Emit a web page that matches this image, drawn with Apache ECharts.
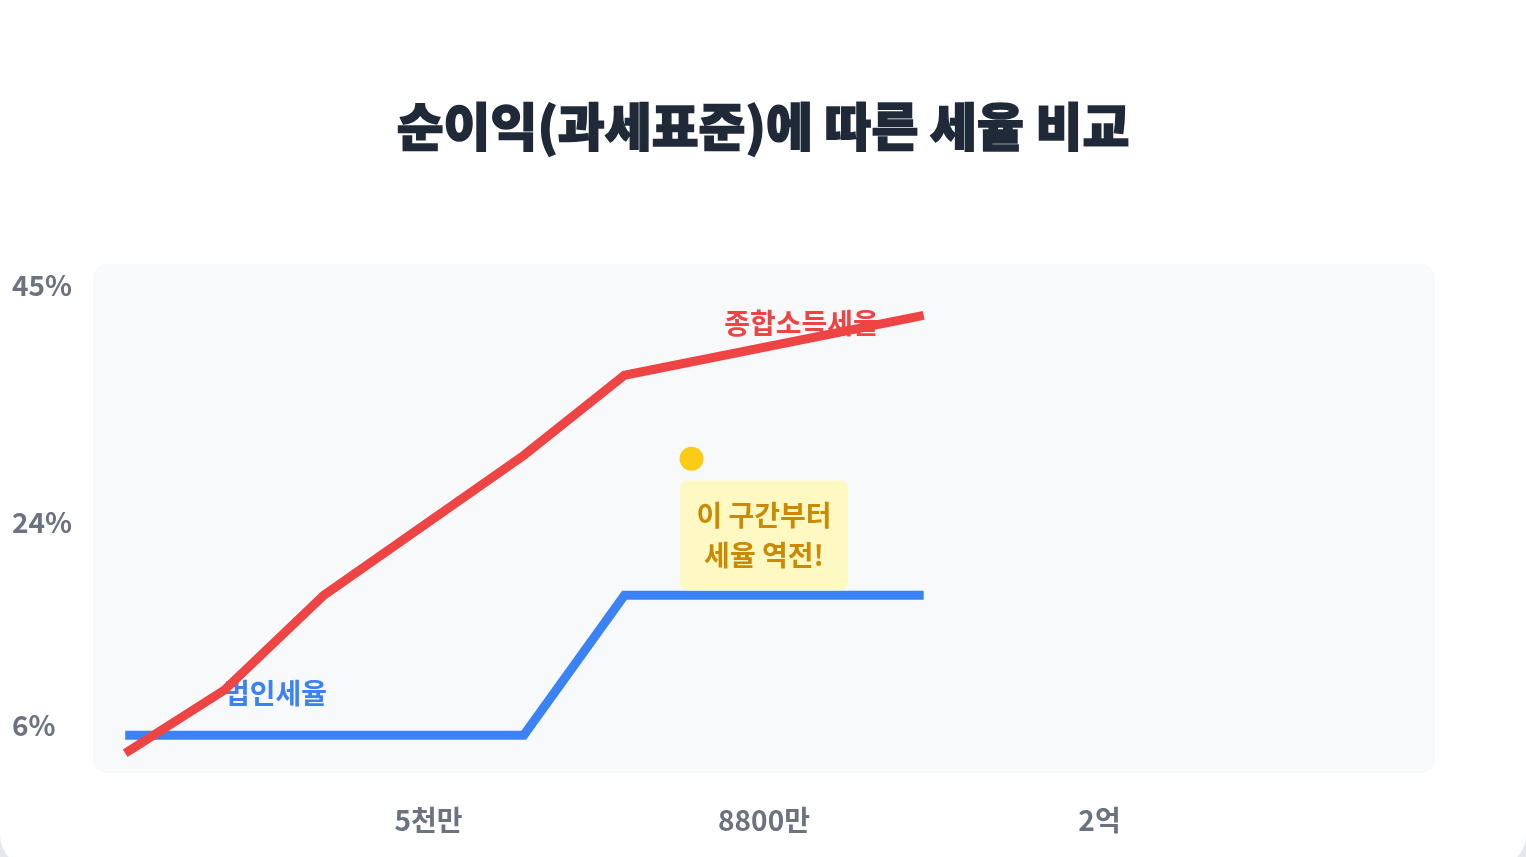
<!DOCTYPE html>
<html>
<head>
    <meta charset="utf-8">
    <script src="https://cdn.jsdelivr.net/npm/echarts@6/dist/echarts.min.js"></script>
    <style>
        html, body { margin: 0; padding: 0; background: #e5e7eb; overflow: hidden; }
        .card {
            width: 1526px;
            height: 867px;
            background: #ffffff;
            border-radius: 0 0 32px 32px;
            overflow: hidden;
        }
        #main { width: 1526px; height: 857px; }
    </style>
</head>
<body>
<div class="card"><div id="main"></div></div>

<script>
    // 종합소득세율 (x: 순이익 위치, y: 세율 %)
    var incomeX = [2.4, 9.8, 17.2, 32.1, 39.6, 61.9];
    var incomeRate = [3.5, 9.1, 17.5, 29.9, 37.0, 42.3];

    // 법인세율
    var corpX = [2.4, 32.1, 39.6, 61.9];
    var corpRate = [5.1, 5.1, 17.5, 17.5];

    // 축 눈금
    var xTicks = [25, 50, 75];
    var xTickLabels = ['5천만', '8800만', '2억'];
    var yTicks = [6, 24, 45];

    // 주석 위치
    var incomeLabelPos = [52.8, 41.6];
    var corpLabelPos = [13.6, 8.8];
    var dotPos = [44.6, 29.6];
    var notePos = [50.0, 22.8];

    var FONT = 'Noto Sans CJK KR';

    function pairs(xs, ys) {
        var out = [];
        for (var i = 0; i < xs.length; i++) {
            out.push([xs[i], ys[i]]);
        }
        return out;
    }

    var chart = echarts.init(document.getElementById('main'));
    chart.setOption({
        backgroundColor: 'transparent',
        animation: false,
        title: {
            text: '순이익(과세표준)에 따른 세율 비교',
            left: 'center',
            top: 92,
            textStyle: {
                fontFamily: FONT,
                fontSize: 51,
                fontWeight: 900,
                color: '#1f2937',
                textBorderColor: '#1f2937',
                textBorderWidth: 1.5,
                lineHeight: 60
            }
        },
        graphic: [{
            type: 'rect',
            left: 93,
            top: 264,
            z: -10,
            shape: { width: 1342, height: 509, r: 14 },
            style: { fill: '#f8f9fb' }
        }],
        grid: {
            left: 93,
            right: 91,
            top: 264,
            bottom: 84
        },
        xAxis: {
            type: 'value',
            min: 0,
            max: 100,
            axisLine: { show: false },
            axisTick: { show: false },
            splitLine: { show: false },
            axisLabel: {
                customValues: xTicks,
                margin: 33,
                fontFamily: FONT,
                fontSize: 28,
                fontWeight: 700,
                lineHeight: 28,
                color: '#6b7280',
                formatter: function (v) {
                    var i = xTicks.indexOf(v);
                    return i >= 0 ? xTickLabels[i] : '';
                }
            }
        },
        yAxis: {
            type: 'value',
            min: 1.745,
            max: 46.861,
            axisLine: { show: false },
            axisTick: { show: false },
            splitLine: { show: false },
            axisLabel: {
                customValues: yTicks,
                align: 'left',
                margin: 81,
                fontFamily: FONT,
                fontSize: 28,
                fontWeight: 700,
                color: '#6b7280',
                formatter: '{value}%'
            }
        },
        series: [{
            name: '법인세율 라벨',
            type: 'scatter',
            z: 1,
            symbolSize: 0,
            silent: true,
            itemStyle: { opacity: 1 },
            data: [corpLabelPos],
            label: {
                show: true,
                position: 'inside',
                formatter: '법인세율',
                fontFamily: FONT,
                fontSize: 28,
                fontWeight: 700,
                color: '#3b82f6'
            }
        }, {
            name: '종합소득세율 라벨',
            type: 'scatter',
            z: 1,
            symbolSize: 0,
            silent: true,
            itemStyle: { opacity: 1 },
            data: [incomeLabelPos],
            label: {
                show: true,
                position: 'inside',
                formatter: '종합소득세율',
                fontFamily: FONT,
                fontSize: 28,
                fontWeight: 700,
                color: '#ef4444'
            }
        }, {
            name: '법인세율',
            type: 'line',
            z: 3,
            showSymbol: false,
            symbol: 'none',
            lineStyle: { color: '#3b82f6', width: 9, cap: 'butt', join: 'miter' },
            data: pairs(corpX, corpRate)
        }, {
            name: '종합소득세율',
            type: 'line',
            z: 4,
            showSymbol: false,
            symbol: 'none',
            lineStyle: { color: '#ef4444', width: 9, cap: 'butt', join: 'miter' },
            data: pairs(incomeX, incomeRate)
        }, {
            name: '역전 지점',
            type: 'scatter',
            z: 5,
            symbolSize: 24,
            itemStyle: { color: '#facc15', opacity: 1 },
            data: [dotPos]
        }, {
            name: '설명',
            type: 'scatter',
            z: 5,
            symbolSize: 0,
            silent: true,
            itemStyle: { opacity: 1 },
            data: [notePos],
            label: {
                show: true,
                position: 'inside',
                formatter: '이 구간부터\n세율 역전!',
                fontFamily: FONT,
                fontSize: 28,
                fontWeight: 700,
                color: '#ca8a04',
                lineHeight: 40,
                align: 'center',
                backgroundColor: '#fef9c3',
                borderRadius: 8,
                width: 168,
                height: 80,
                padding: [16, 0, 14, 0]
            }
        }]
    });
</script>
</body>
</html>
